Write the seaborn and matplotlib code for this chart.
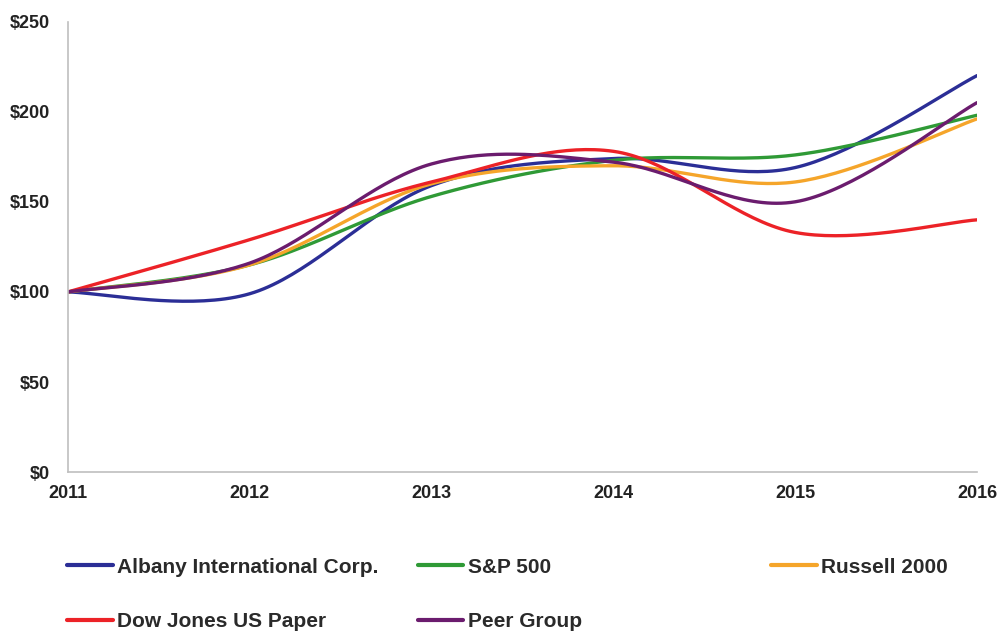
import numpy as np
import pandas as pd
import matplotlib
matplotlib.use('Agg')
import matplotlib.pyplot as plt
from matplotlib.lines import Line2D
import seaborn as sns

# yearly values (indexed to $100 in 2011)
years = [2011, 2012, 2013, 2014, 2015, 2016]
albany = [100, 99, 159, 174, 169, 220]
sp500 = [100, 115, 153, 173, 176, 198]
russell = [100, 115, 160, 170, 161, 196]
dj_paper = [100, 129, 161, 178, 133, 140]
peer = [100, 116, 171, 172, 150, 205]

names = ['Albany International Corp.', 'S&P 500', 'Russell 2000',
         'Dow Jones US Paper', 'Peer Group']
series = [albany, sp500, russell, dj_paper, peer]
colors = ['#2B2E96', '#2F9A36', '#F5A52A', '#EC2227', '#6B1C6E']


def smooth(xs, ys, n=40):
    # Excel-style smoothed line (Catmull-Rom bezier through the points)
    P = np.column_stack([xs, ys]).astype(float)
    P = np.vstack([P[0], P, P[-1]])
    t = np.linspace(0, 1, n)[:, None]
    out = []
    for i in range(1, len(P) - 2):
        p0, p1 = P[i], P[i + 1]
        c1 = p0 + (P[i + 1] - P[i - 1]) / 6
        c2 = p1 - (P[i + 2] - P[i]) / 6
        seg = ((1 - t) ** 3) * p0 + 3 * ((1 - t) ** 2) * t * c1 + 3 * (1 - t) * t ** 2 * c2 + t ** 3 * p1
        out.append(seg if i == 1 else seg[1:])
    return np.vstack(out)


rows = []
for name, vals in zip(names, series):
    pts = smooth(years, vals)
    for k, (x, y) in enumerate(pts):
        rows.append({'year': x, 'value': y, 'series': name, 'order': k})
df = pd.DataFrame(rows)

sns.set_style('white')
plt.rcParams['font.family'] = ['Liberation Sans', 'DejaVu Sans']

fig = plt.figure(figsize=(9.98, 6.33), dpi=100)
ax = fig.add_axes([0.068, 0.254, 0.911, 0.712])

sns.lineplot(data=df, x='year', y='value', hue='series', hue_order=names,
             palette=colors, sort=False, estimator=None, linewidth=2.4,
             legend=False, ax=ax)

ax.set_xlim(2011, 2016)
ax.set_ylim(0, 250)
ax.set_xticks(years)
ax.set_xticklabels([str(y) for y in years], fontsize=13, fontweight='bold', color='#222222')
ax.set_yticks(range(0, 251, 50))
ax.set_yticklabels(['$' + str(v) for v in range(0, 251, 50)], fontsize=13,
                   fontweight='bold', color='#222222')
ax.set_xlabel('')
ax.set_ylabel('')
sns.despine(ax=ax)
for s in ['left', 'bottom']:
    ax.spines[s].set_color('#BFBFBF')
    ax.spines[s].set_linewidth(1.2)
ax.tick_params(axis='y', direction='out', length=4.3, color='#BFBFBF', pad=8.5)
ax.tick_params(axis='x', direction='in', length=4.3, color='#BFBFBF', pad=9)

# legend laid out in three columns like the original
handles = {n: Line2D([], [], color=c, linewidth=3) for n, c in zip(names, colors)}
groups = [(['Albany International Corp.', 'Dow Jones US Paper'], 0.059),
          (['S&P 500', 'Peer Group'], 0.410),
          (['Russell 2000'], 0.764)]
for labels, x0 in groups:
    leg = fig.legend([handles[l] for l in labels], labels, loc='upper left',
                     bbox_to_anchor=(x0, 0.132), frameon=False, ncol=1,
                     handlelength=2.2, handletextpad=0.2, labelspacing=1.7,
                     prop={'size': 15, 'weight': 'bold'}, borderaxespad=0)
    for txt in leg.get_texts():
        txt.set_color('#2a2a2a')

fig.savefig('out.png', dpi=100, facecolor='white')
